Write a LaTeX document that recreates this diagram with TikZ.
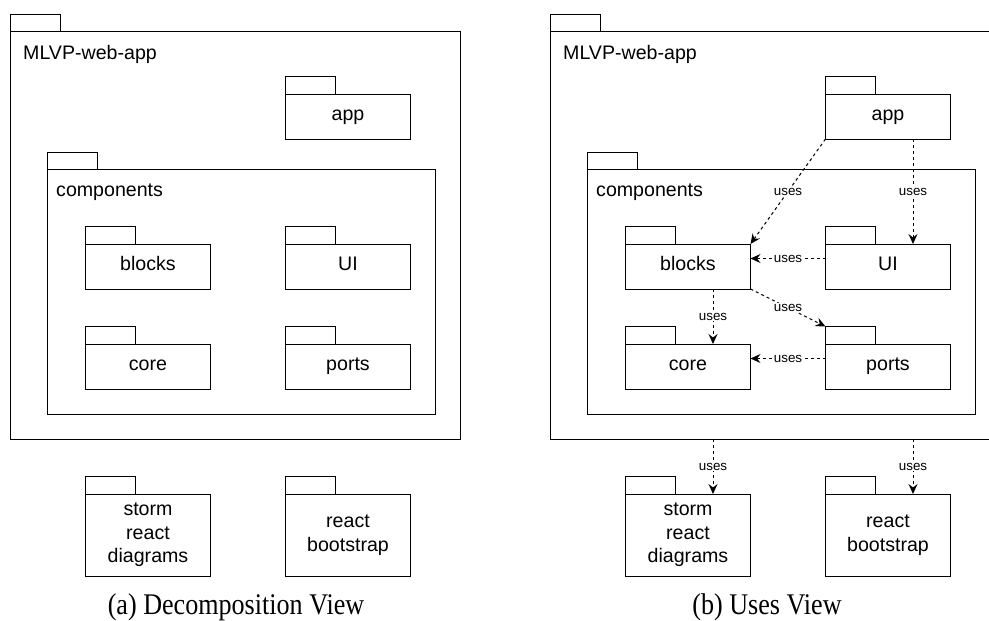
\documentclass[tikz,border=0pt]{standalone}
\usepackage{fontspec}
\newfontfamily\diagfont{Liberation Sans}
\newfontfamily\capfont{Liberation Serif}
\usetikzlibrary{arrows.meta,calc}

% All packages of the web app, with node names prefixed by #1
\newcommand\drawpackages[1]{%
  % outer package
  \node[pkgbody, minimum width=450pt, minimum height=407.5pt] (#1outer) at (10,31.5) {};
  \node[tabbox] (#1outerT) at (#1outer.north west) {};
  \node[pkgtitle] (#1outerL) at (23,59) {MLVP-web-app};
  % app
  \node[pkgbody, oneline] (#1app) at (285.5,94) {app};
  \node[tabbox] (#1appT) at (#1app.north west) {};
  % components package
  \node[pkgbody, minimum width=388pt, minimum height=244.5pt] (#1comp) at (47.5,169.5) {};
  \node[tabbox] (#1compT) at (#1comp.north west) {};
  \node[pkgtitle] (#1compL) at (56,196.5) {components};
  % inner packages
  \node[pkgbody, oneline] (#1blocks) at (85.5,244) {blocks};
  \node[tabbox] (#1blocksT) at (#1blocks.north west) {};
  \node[pkgbody, oneline] (#1UI) at (285.5,244) {UI};
  \node[tabbox] (#1UIT) at (#1UI.north west) {};
  \node[pkgbody, oneline] (#1core) at (85.5,344) {core};
  \node[tabbox] (#1coreT) at (#1core.north west) {};
  \node[pkgbody, oneline] (#1ports) at (285.5,344) {ports};
  \node[tabbox] (#1portsT) at (#1ports.north west) {};
  % external libraries
  \node[pkgbody, minimum height=82pt] (#1storm) at (85.5,494) {storm\\react\\diagrams};
  \node[tabbox] (#1stormT) at (#1storm.north west) {};
  \node[pkgbody, minimum height=82pt] (#1rb) at (285.5,494) {react\\bootstrap};
  \node[tabbox] (#1rbT) at (#1rb.north west) {};
}

\begin{document}
\begin{tikzpicture}[x=1pt, y=-1pt,
  pkgbody/.style={draw, line width=1pt, inner sep=0pt, outer sep=0pt,
    anchor=north west, minimum width=125pt, minimum height=45pt,
    align=center, font=\diagfont\fontsize{19.6}{23.5}\selectfont},
  oneline/.style={text height=14.6pt, text depth=6pt},
  tabbox/.style={draw, line width=1pt, inner sep=0pt, outer sep=0pt,
    anchor=south west, minimum width=50pt, minimum height=17.5pt},
  pkgtitle/.style={anchor=base west, inner sep=0pt,
    font=\diagfont\fontsize{19.6}{23.5}\selectfont},
  uses/.style={draw, line width=1pt, dash pattern=on 3pt off 3pt,
    -{Stealth[length=10pt, width=9pt, inset=3.5pt]}},
  usel/.style={fill=white, inner sep=1pt,
    font=\diagfont\fontsize{13.4}{16}\selectfont},
  caption/.style={anchor=base, inner sep=0pt,
    font=\capfont\fontsize{30}{36}\selectfont}]

\useasboundingbox (0,0) rectangle (989,621);
\clip (0,0) rectangle (989,621);

% (a) decomposition view
\drawpackages{a}

% (b) uses view
\begin{scope}[xshift=540pt]
  \drawpackages{b}
\end{scope}

\draw[uses] (bapp.south west) -- node[usel] {uses} (bblocks.north east);
\draw[uses] ([xshift=25pt]bapp.south) -- node[usel] {uses} ([xshift=25pt]bUI.north);
\draw[uses] ([yshift=8pt]bUI.west) -- node[usel] {uses} ([yshift=8pt]bblocks.east);
\draw[uses] ([xshift=25pt]bblocks.south) -- node[usel] {uses} ([xshift=25pt]bcore.north);
\draw[uses] (bblocks.south east) -- node[usel] {uses} (bportsT.north west);
\draw[uses] ([yshift=8pt]bports.west) -- node[usel] {uses} ([yshift=8pt]bcore.east);
\draw[uses] ([xshift=25pt]bstorm.north |- bouter.south) -- node[usel] {uses} ([xshift=25pt]bstorm.north);
\draw[uses] ([xshift=25pt]brb.north |- bouter.south) -- node[usel] {uses} ([xshift=25pt]brb.north);

% captions
\node[caption] (capa) at (236,614.7) {\scalebox{0.87}[1]{(a) Decomposition View}};
\node[caption] (capb) at (767,614.7) {\scalebox{0.87}[1]{(b) Uses View}};
\end{tikzpicture}
\end{document}
